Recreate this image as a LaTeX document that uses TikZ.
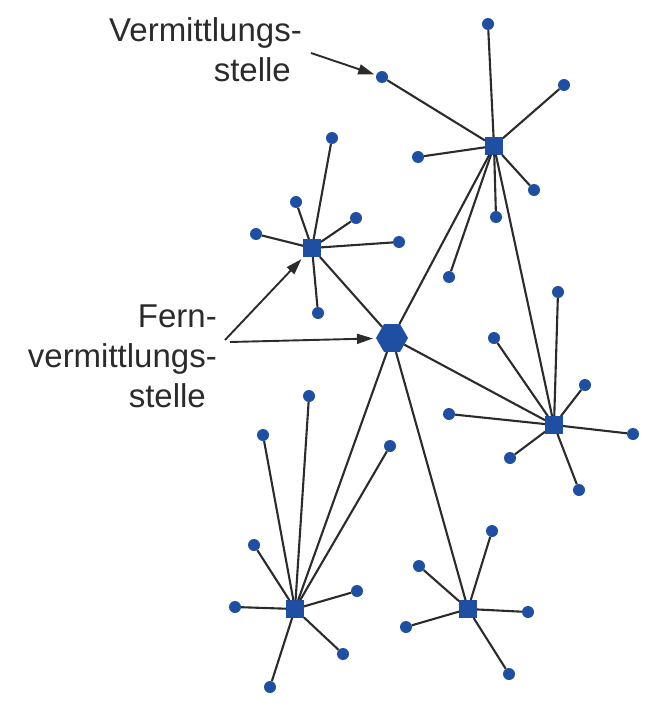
\documentclass[tikz,border=0pt]{standalone}
\usepackage{fontspec}
\setmainfont{Liberation Sans}
\usetikzlibrary{shapes.geometric,arrows.meta}
\definecolor{netblue}{HTML}{1F4FA3}
\definecolor{inkgray}{HTML}{2B2B2B}

\begin{document}
\begin{tikzpicture}[x=1pt,y=-1pt,
	leaf/.style={circle,fill=netblue,inner sep=0pt,minimum size=12pt},
	hub/.style={rectangle,fill=netblue,inner sep=0pt,minimum size=17.5pt},
	fern/.style={regular polygon,regular polygon sides=6,fill=netblue,inner sep=0pt,minimum size=32pt},
	link/.style={draw=inkgray,line width=2.1pt},
	pointer/.style={draw=inkgray,line width=1.9pt,-{Triangle[length=16pt,width=10pt]}},
	notetext/.style={inner sep=0pt,align=right,text=inkgray,font=\fontsize{33}{40}\selectfont}]
				%%%%% START %%%%%
				\useasboundingbox (0,0) rectangle (663,717);
				
				\node[fern] (H) at (392,338) {};
				\node[hub] (A) at (494,146) {};
				\node[hub] (B) at (312,248) {};
				\node[hub] (C) at (554,425) {};
				\node[hub] (D) at (295,609) {};
				\node[hub] (E) at (468,609) {};
				
				\node[leaf] (a1) at (382,77) {};
				\node[leaf] (a2) at (488,24) {};
				\node[leaf] (a3) at (564,85) {};
				\node[leaf] (a4) at (418,157) {};
				\node[leaf] (a5) at (534,190) {};
				\node[leaf] (a6) at (496,217) {};
				\node[leaf] (a7) at (449,277) {};
				
				\node[leaf] (b1) at (332,138) {};
				\node[leaf] (b2) at (296,202) {};
				\node[leaf] (b3) at (356,218) {};
				\node[leaf] (b4) at (256,234) {};
				\node[leaf] (b5) at (399,242) {};
				\node[leaf] (b6) at (318,313) {};
				
				\node[leaf] (c1) at (558,292) {};
				\node[leaf] (c2) at (494,338) {};
				\node[leaf] (c3) at (585,385) {};
				\node[leaf] (c4) at (449,414) {};
				\node[leaf] (c5) at (633,434) {};
				\node[leaf] (c6) at (510,458) {};
				\node[leaf] (c7) at (579,490) {};
				
				\node[leaf] (d1) at (309,396) {};
				\node[leaf] (d2) at (263,435) {};
				\node[leaf] (d3) at (390,446) {};
				\node[leaf] (d4) at (254,545) {};
				\node[leaf] (d5) at (235,607) {};
				\node[leaf] (d6) at (357,591) {};
				\node[leaf] (d7) at (343,654) {};
				\node[leaf] (d8) at (270,687) {};
				
				\node[leaf] (e1) at (492,531) {};
				\node[leaf] (e2) at (419,566) {};
				\node[leaf] (e3) at (528,612) {};
				\node[leaf] (e4) at (406,627) {};
				\node[leaf] (e5) at (509,674) {};
				
				\draw[link] (H) -- (A);
				\draw[link] (H) -- (B);
				\draw[link] (H) -- (C);
				\draw[link] (H) -- (D);
				\draw[link] (H) -- (E);
				\draw[link] (A) -- (C);
				
				\draw[link] (A) -- (a1);
				\draw[link] (A) -- (a2);
				\draw[link] (A) -- (a3);
				\draw[link] (A) -- (a4);
				\draw[link] (A) -- (a5);
				\draw[link] (A) -- (a6);
				\draw[link] (A) -- (a7);
				
				\draw[link] (B) -- (b1);
				\draw[link] (B) -- (b2);
				\draw[link] (B) -- (b3);
				\draw[link] (B) -- (b4);
				\draw[link] (B) -- (b5);
				\draw[link] (B) -- (b6);
				
				\draw[link] (C) -- (c1);
				\draw[link] (C) -- (c2);
				\draw[link] (C) -- (c3);
				\draw[link] (C) -- (c4);
				\draw[link] (C) -- (c5);
				\draw[link] (C) -- (c6);
				\draw[link] (C) -- (c7);
				
				\draw[link] (D) -- (d1);
				\draw[link] (D) -- (d2);
				\draw[link] (D) -- (d3);
				\draw[link] (D) -- (d4);
				\draw[link] (D) -- (d5);
				\draw[link] (D) -- (d6);
				\draw[link] (D) -- (d7);
				\draw[link] (D) -- (d8);
				
				\draw[link] (E) -- (e1);
				\draw[link] (E) -- (e2);
				\draw[link] (E) -- (e3);
				\draw[link] (E) -- (e4);
				\draw[link] (E) -- (e5);
				
				\node[notetext,anchor=north east] (vst) at (291,17.5) {Vermittlungs\rlap{-}\\stelle};
				\node[notetext,anchor=north east] (fvst) at (206,304.5) {Fern\rlap{-}\\vermittlungs\rlap{-}\\stelle};
				
				\coordinate (vtail) at (311,53);
				\coordinate (ftailb) at (225,340);
				\coordinate (ftailh) at (230,342);
				\draw[pointer,shorten >=2pt] (vtail) -- (a1);
				\draw[pointer,shorten >=3pt] (ftailb) -- (B);
				\draw[pointer,shorten >=3pt] (ftailh) -- (H);
				%%%%% END %%%%%
\end{tikzpicture}
\end{document}
